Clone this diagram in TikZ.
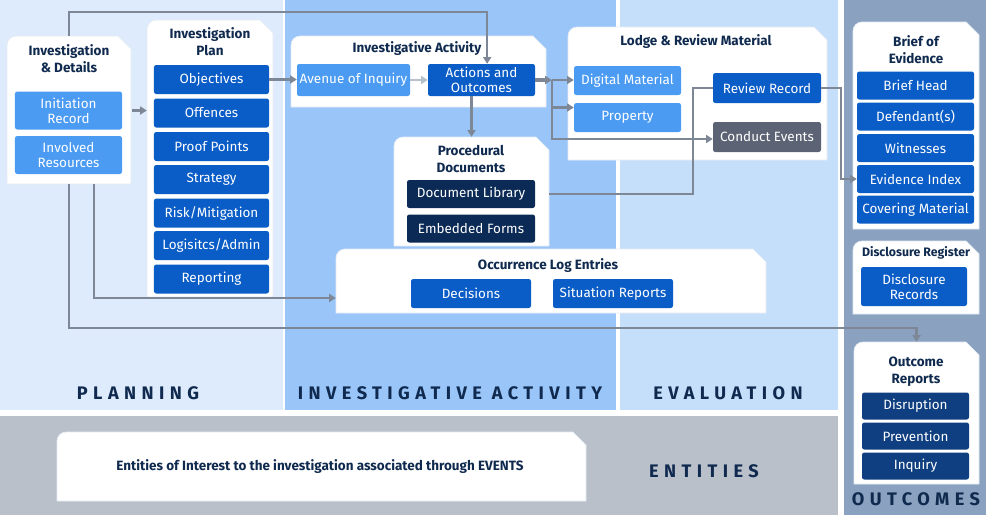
\documentclass[tikz,border=0pt]{standalone}
\usepackage{fontspec}
\setmainfont{Fira Sans}
\usetikzlibrary{arrows.meta,positioning,fit,calc}
\definecolor{navy}{RGB}{15,42,78}
\definecolor{skyband}{RGB}{221,235,252}
\definecolor{midband}{RGB}{153,197,248}
\definecolor{paleband}{RGB}{197,222,250}
\definecolor{slate}{RGB}{138,162,192}
\definecolor{stone}{RGB}{185,192,202}
\definecolor{azure}{RGB}{75,155,243}
\definecolor{cobalt}{RGB}{10,92,198}
\definecolor{midnight}{RGB}{11,42,85}
\definecolor{marine}{RGB}{15,63,128}
\definecolor{smoke}{RGB}{91,99,116}
\definecolor{wire}{RGB}{125,135,150}
\definecolor{wirelight}{RGB}{184,192,204}
\definecolor{edge}{RGB}{228,235,243}
\tikzset{
  >={Triangle[length=2mm,width=2.4mm]},
  band/.style={fill=#1},
  panel/.style={fill=white,draw=edge,line width=0.6pt},
  blk/.style={fill=#1,text=white,rounded corners=2pt,minimum width=3.2cm,
    minimum height=0.87cm,align=center,inner sep=1pt,
    font=\fontsize{11.5}{13}\selectfont},
  blk/.default=cobalt,
  head/.style={text=navy,align=center,font=\fontsize{11.5}{14.5}\selectfont\bfseries},
  phase/.style={text=navy,font=\fontsize{15.5}{17}\selectfont\bfseries\addfontfeature{LetterSpace=30}},
  flow/.style={->,draw=#1,line width=2pt},
  flow/.default=wire,
}
% panel: name, left, top, right, bottom (pixels)
\newcommand{\panel}[5]{%
  \filldraw[panel] (#2,#5) -- (#2,#3+9) arc(180:270:9) -- (#4-13,#3) -- (#4,#3+13) -- (#4,#5) -- cycle;
  \node[fit={(#2,#3) (#4,#5)},inner sep=0pt] (#1) {};}

\begin{document}
\begin{tikzpicture}[x=0.03cm,y=-0.03cm]
  \useasboundingbox (0,0) rectangle (999,523);
  \foreach \xa/\xb/\c in {0/283/skyband,285/616/midband,620/838/paleband}
    \fill[band=\c] (\xa,0) rectangle (\xb,410);
  \fill[band=stone] (0,416) rectangle (838,515);
  \fill[band=slate] (844,0) rectangle (986,515);

  \node[phase] (lplan) at (138,393) {PLANNING};
  \node[phase] (lact) at (450,393) {INVESTIGATIVE ACTIVITY};
  \node[phase] (leval) at (728,393) {EVALUATION};
  \node[phase] (lent) at (704,471) {ENTITIES};
  \node[phase] (lout) at (916,499) {OUTCOMES};

  \panel{det}{7}{36}{131}{184}
  \node[head] (dett) at (69,59) {Investigation\\\& Details};
  \node[blk=azure,minimum width=3.21cm,minimum height=1.14cm] (init) at (68.5,110.5) {Initiation\\Record};
  \node[blk=azure,minimum width=3.21cm,minimum height=1.14cm] (res) at (68.5,155) {Involved\\Resources};

  \panel{plan}{147}{20}{273}{297}
  \node[head] (plant) at (210,42) {Investigation\\Plan};
  \foreach \y/\n/\t in {79.5/obj/Objectives,113/off/Offences,146.5/proof/Proof Points,
    179.5/strat/Strategy,213/risk/{Risk/Mitigation},245.5/logi/{Logisitcs/Admin},279/rep/Reporting}
    \node[blk,minimum width=3.45cm] (\n) at (211.5,\y) {\t};

  \panel{iap}{291}{36}{546}{107}
  \node[head] (iapt) at (417,49) {Investigative Activity};
  \node[blk=azure,minimum width=3.39cm,minimum height=0.96cm] (avenue) at (353.5,80) {Avenue of Inquiry};
  \node[blk,minimum width=3.21cm,minimum height=0.96cm] (act) at (481.5,80) {Actions and\\Outcomes};

  \panel{proc}{394}{137}{549}{246}
  \node[head] (proct) at (471,159) {Procedural\\Documents};
  \node[blk=midnight,minimum width=3.84cm,minimum height=0.84cm] (lib) at (471,194) {Document Library};
  \node[blk=midnight,minimum width=3.84cm,minimum height=0.84cm] (forms) at (471,228.5) {Embedded Forms};

  \panel{occ}{336}{249}{766}{313}
  \node[head] (occt) at (548,266) {Occurrence Log Entries};
  \node[blk,minimum width=3.6cm] (dec) at (471,293.5) {Decisions};
  \node[blk,minimum width=3.6cm] (sit) at (613,293.5) {Situation Reports};

  \panel{lodge}{568}{27}{827}{160}
  \node[head] (lodget) at (696,42) {Lodge \& Review Material};
  \node[blk=azure,minimum width=3.21cm] (dig) at (627.5,80.5) {Digital Material};
  \node[blk=azure,minimum width=3.21cm] (prop) at (627.5,117.5) {Property};
  \node[blk,minimum width=3.24cm,minimum height=0.9cm] (rev) at (767,88) {Review Record};
  \node[blk=smoke,minimum width=3.24cm,minimum height=0.9cm] (cond) at (767,137) {Conduct Events};

  \panel{brief}{853}{22}{979}{229}
  \node[head] (brieft) at (916,49.5) {Brief of\\Evidence};
  \foreach \y/\n/\t in {85.5/bhead/Brief Head,116.5/defs/Defendant(s),148/wit/Witnesses,
    179/evi/Evidence Index,209.5/cover/Covering Material}
    \node[blk,minimum width=3.51cm,minimum height=0.84cm] (\n) at (915.5,\y) {\t};

  \panel{disc}{853}{241}{979}{314}
  \node[head,font=\fontsize{10.5}{12}\selectfont\bfseries] (disct) at (916,253) {Disclosure Register};
  \node[blk,minimum width=3.18cm,minimum height=1.17cm] (drec) at (914,286.5) {Disclosure\\Records};

  \panel{outc}{854}{342}{979}{484}
  \node[head] (outct) at (916,372) {Outcome\\Reports};
  \foreach \y/\n/\t in {406/disr/Disruption,436/prev/Prevention,466/inq/Inquiry}
    \node[blk=marine,minimum width=3.21cm,minimum height=0.81cm] (\n) at (915.5,\y) {\t};

  \panel{ent}{57}{432}{586}{501}
  \node[head,font=\fontsize{11.5}{13}\selectfont\bfseries] (entt) at (320,467) {Entities of Interest to the investigation associated through EVENTS};

  % connectors
  \draw[flow] (det.north) -- ++(0,-24) -| ([xshift=0.17cm]act.north);
  \draw[flow] ([xshift=0.03cm]det.east |- init) -- (plan.west |- init);
  \draw[flow] (obj.east) -- (avenue.west |- obj.east);
  \draw[flow=wirelight] (avenue) -- (act);
  \draw[flow] (proc.north |- act.south) -- (proc.north);
  \coordinate (split) at ([xshift=0.5cm]act.east);
  \draw[flow,line width=3pt] (act.east) -- (split);
  \draw[flow] (split) -- (dig.west |- split);
  \draw[flow] (split) |- ([yshift=0.3cm]prop.west);
  \draw[flow] (split) |- ([yshift=-0.06cm]cond.west);
  \draw[flow,-] (proc.east |- lib) -- ++(144,0) |- (rev.west);
  \draw[flow] (rev.east) -- ++(20,0) |- (evi.west);
  \draw[flow] (det.south) -- ++(0,144) -| (outc.north);
  \draw[flow] ([xshift=0.75cm]det.south) |- ([yshift=-0.51cm]occ.west);
\end{tikzpicture}
\end{document}
